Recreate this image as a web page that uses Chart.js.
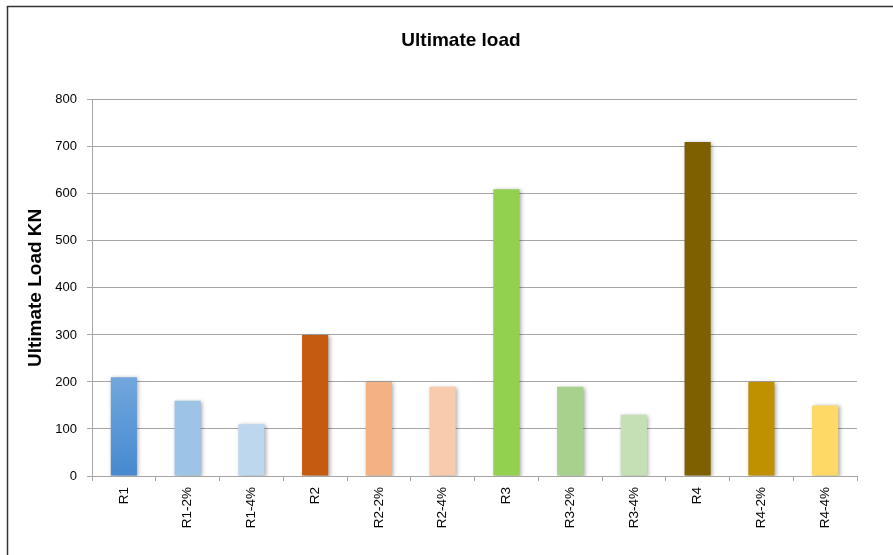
<!DOCTYPE html>
<html>
<head>
<meta charset="utf-8">
<script src="https://cdn.jsdelivr.net/npm/chart.js@4/dist/chart.umd.min.js"></script>
<style>
  html, body { margin: 0; padding: 0; background: #ffffff; }
  #wrap { position: relative; width: 893px; height: 555px; }
</style>
</head>
<body>
<div id="wrap"><canvas id="chart" width="893" height="555"></canvas></div>
<script>
// Specimen labels and ultimate loads (kN)
const categories = ['R1', 'R1-2%', 'R1-4%', 'R2', 'R2-2%', 'R2-4%', 'R3', 'R3-2%', 'R3-4%', 'R4', 'R4-2%', 'R4-4%'];
const ultimateLoad = [210, 160, 110, 300, 200, 190, 610, 190, 130, 710, 200, 150];
const barColors = ['#5b9bd5', '#9dc3e6', '#bdd7ee', '#c55a11', '#f4b183', '#f8cbad',
                   '#92d050', '#a9d18e', '#c5e0b4', '#7f6000', '#bf9000', '#ffd966'];
const yTicks = [0, 100, 200, 300, 400, 500, 600, 700, 800];

const axisGray = '#a6a6a6';
const textFont = 'Liberation Sans, Arial, sans-serif';

// First bar has a soft vertical gradient; the rest are flat fills
function barFill(ctx) {
  const i = ctx.dataIndex;
  const chart = ctx.chart;
  if (i === 0 && chart.chartArea) {
    const y = chart.scales.y;
    const g = chart.ctx.createLinearGradient(0, y.getPixelForValue(ultimateLoad[0]), 0, y.getPixelForValue(0));
    g.addColorStop(0, '#72a7dc');
    g.addColorStop(1, '#4689cf');
    return g;
  }
  return barColors[i];
}

// White page, frame lines and a light drop shadow under the bars
const framePlugin = {
  id: 'frame',
  beforeDraw(chart) {
    const c = chart.ctx;
    c.save();
    c.fillStyle = '#ffffff';
    c.fillRect(0, 0, chart.width, chart.height);
    c.strokeStyle = '#333333';
    c.lineWidth = 1.5;
    c.beginPath();
    c.moveTo(7.5, chart.height);
    c.lineTo(7.5, 6.5);
    c.lineTo(chart.width, 6.5);
    c.stroke();
    c.restore();
  },
  beforeDatasetDraw(chart) {
    const c = chart.ctx;
    c.save();
    c.shadowColor = 'rgba(0,0,0,0.35)';
    c.shadowBlur = 4;
    c.shadowOffsetX = 1.5;
    c.shadowOffsetY = 1;
  },
  afterDatasetDraw(chart) {
    chart.ctx.restore();
  }
};

new Chart(document.getElementById('chart'), {
  type: 'bar',
  data: {
    labels: categories,
    datasets: [{
      label: 'Ultimate load',
      data: ultimateLoad,
      backgroundColor: barFill,
      borderWidth: 0,
      categoryPercentage: 1.0,
      barPercentage: 0.41
    }]
  },
  options: {
    responsive: false,
    animation: false,
    devicePixelRatio: 1,
    layout: { padding: { left: 29, right: 0, top: 0, bottom: 0 } },
    plugins: {
      legend: { display: false },
      tooltip: { enabled: false },
      title: {
        display: true,
        text: 'Ultimate load',
        color: '#000000',
        font: { family: textFont, size: 19, weight: 'bold' },
        padding: { top: 29, bottom: 48 }
      }
    },
    scales: {
      x: {
        offset: true,
        grid: {
          offset: true,
          drawOnChartArea: false,
          drawTicks: true,
          tickLength: 5,
          color: axisGray
        },
        border: { color: axisGray, width: 1 },
        ticks: {
          color: '#000000',
          font: { family: textFont, size: 13.5 },
          minRotation: 90,
          maxRotation: 90,
          padding: 6,
          autoSkip: false
        },
        afterFit(scale) { scale.height = 79; }
      },
      y: {
        min: 0,
        max: 800,
        afterBuildTicks(scale) { scale.ticks = yTicks.map(v => ({ value: v })); },
        grid: { color: axisGray, tickLength: 5, drawTicks: true },
        border: { color: axisGray, width: 1 },
        ticks: {
          color: '#000000',
          font: { family: textFont, size: 13 },
          padding: 10
        },
        title: {
          display: true,
          text: 'Ultimate Load KN',
          color: '#000000',
          font: { family: textFont, size: 19, weight: 'bold' },
          padding: { top: -5, bottom: 0 }
        },
        afterFit(scale) { scale.width = 63; }
      },
      // empty right-hand margin of the plot
      yRight: {
        position: 'right',
        min: 0,
        max: 800,
        grid: { display: false, drawOnChartArea: false },
        border: { display: false },
        ticks: { display: false },
        afterFit(scale) { scale.width = 36; }
      }
    }
  },
  plugins: [framePlugin]
});
</script>
</body>
</html>
